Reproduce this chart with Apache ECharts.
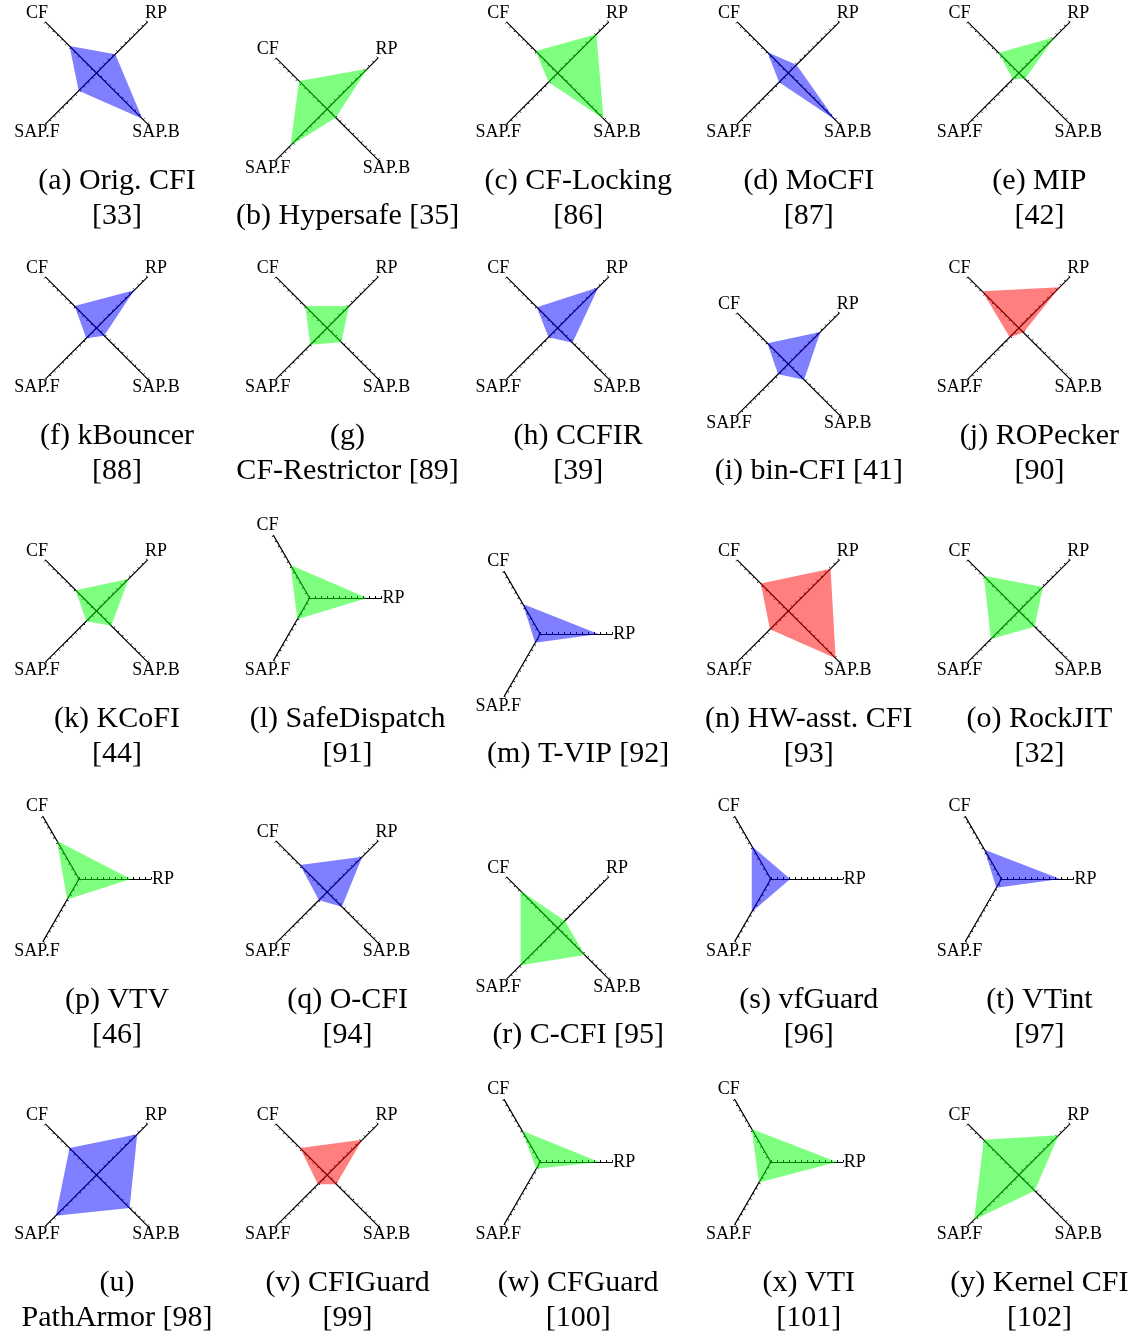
<!DOCTYPE html>
<html><head><meta charset="utf-8">
<script src="https://cdn.jsdelivr.net/npm/echarts@6/dist/echarts.min.js"></script>
<style>html,body{margin:0;padding:0;background:#fff}#c{width:1141px;height:1339px}</style>
</head><body><div id="c"></div>
<script>
// ---- data ----
const captionLine1 = ['(a) Orig. CFI','(b) Hypersafe [35]','(c) CF-Locking','(d) MoCFI','(e) MIP',
  '(f) kBouncer','(g)','(h) CCFIR','(i) bin-CFI [41]','(j) ROPecker',
  '(k) KCoFI','(l) SafeDispatch','(m) T-VIP [92]','(n) HW-asst. CFI','(o) RockJIT',
  '(p) VTV','(q) O-CFI','(r) C-CFI [95]','(s) vfGuard','(t) VTint',
  '(u)','(v) CFIGuard','(w) CFGuard','(x) VTI','(y) Kernel CFI'];
const captionLine2 = ['[33]','','[86]','[87]','[42]',
  '[88]','CF-Restrictor [89]','[39]','','[90]',
  '[44]','[91]','','[93]','[32]',
  '[46]','[94]','','[96]','[97]',
  'PathArmor [98]','[99]','[100]','[101]','[102]'];
const CF   = [0.53,0.55,0.43,0.41,0.40, 0.43,0.43,0.41,0.41,0.72, 0.41,0.53,0.48,0.54,0.69, 0.61,0.53,0.73,0.53,0.47, 0.53,0.53,0.50,0.53,0.69];
const RP   = [0.37,0.79,0.76,0.16,0.70, 0.74,0.43,0.80,0.63,0.80, 0.63,0.80,0.81,0.83,0.47, 0.72,0.69,0.14,0.27,0.82, 0.80,0.69,0.82,0.92,0.78];
const SAPF = [0.35,0.72,0.18,0.18,0.12, 0.20,0.33,0.18,0.20,0.18, 0.20,0.34,0.14,0.36,0.55, 0.33,0.16,0.73,0.53,0.14, 0.80,0.18,0.11,0.33,0.88];
const SAPB = [0.90,0.17,0.90,0.92,0.12, 0.15,0.28,0.29,0.31,0.09, 0.29,null,null,0.93,0.31, null,0.29,0.53,null,null, 0.65,0.18,null,null,0.31];
const fillKind = ['b','g','g','b','g', 'b','g','b','b','r', 'g','g','b','r','g', 'g','b','g','b','b', 'b','r','g','g','g'];

// ---- layout ----
const palette = {b:'rgba(0,0,255,0.5)', g:'rgba(0,255,0,0.5)', r:'rgba(255,0,0,0.5)'};
const rowBase = [73, 328, 611, 892, 1175];
const colCap = c => 117 + 230.6 * c;
const R = 72, LBL = 84;
const FONT = '"Liberation Serif", "Times New Roman", serif';

const radars = [], series = [], graphics = [];
for (let i = 0; i < 25; i++) {
  const row = Math.floor(i / 5), col = i % 5;
  const three = SAPB[i] === null;
  const oneLine = captionLine2[i] === '';
  const cx = colCap(col) - (three ? 38 : 20.5);
  const cy = rowBase[row] + (three ? -13 : 0) + (oneLine ? 36 : 0);
  const names = three ? ['CF','SAP.F','RP'] : ['CF','SAP.F','SAP.B','RP'];
  const start = three ? 120 : 135;
  radars.push({
    center: [cx, cy], radius: R, startAngle: start, shape: 'polygon', splitNumber: 12,
    indicator: names.map(n => ({name: n, min: 0, max: 1})),
    axisName: {show: false},
    splitLine: {show: false}, splitArea: {show: false},
    axisLine: {lineStyle: {color: '#000', width: 1.2}},
    axisTick: {show: true, length: 2, lineStyle: {color: '#000', width: 1}},
    axisLabel: {show: false}
  });
  const vals = three ? [CF[i], SAPF[i], RP[i]] : [CF[i], SAPF[i], SAPB[i], RP[i]];
  series.push({
    type: 'radar', radarIndex: i, symbol: 'none', silent: true,
    lineStyle: {width: 0, opacity: 0},
    areaStyle: {color: palette[fillKind[i]], opacity: 1},
    data: [{value: vals, name: captionLine1[i]}]
  });
  const step = 360 / names.length;
  names.forEach((n, k) => {
    const a = (start + k * step) * Math.PI / 180;
    graphics.push({type: 'text', x: cx + LBL * Math.cos(a), y: cy - LBL * Math.sin(a), silent: true,
      style: {text: n, font: '18px ' + FONT, fill: '#000', align: 'center', verticalAlign: 'middle'}});
  });
  const capX = colCap(col);
  if (oneLine) {
    graphics.push({type: 'text', x: capX, y: rowBase[row] + 143, silent: true,
      style: {text: captionLine1[i], font: '30px ' + FONT, fill: '#000', align: 'center', verticalAlign: 'middle'}});
  } else {
    graphics.push({type: 'text', x: capX, y: rowBase[row] + 108, silent: true,
      style: {text: captionLine1[i], font: '30px ' + FONT, fill: '#000', align: 'center', verticalAlign: 'middle'}});
    graphics.push({type: 'text', x: capX, y: rowBase[row] + 143, silent: true,
      style: {text: captionLine2[i], font: '30px ' + FONT, fill: '#000', align: 'center', verticalAlign: 'middle'}});
  }
}

const chart = echarts.init(document.getElementById('c'), null, {renderer: 'canvas'});
chart.setOption({
  animation: false,
  backgroundColor: '#fff',
  radar: radars,
  series: series,
  graphic: graphics
});
</script></body></html>
